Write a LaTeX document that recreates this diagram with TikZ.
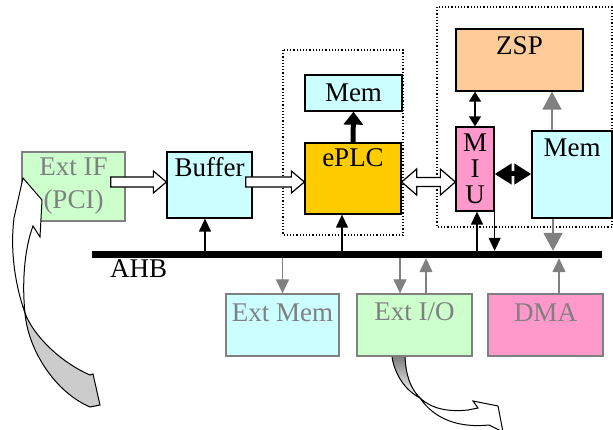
\documentclass[tikz,border=0pt]{standalone}
\usepackage{fontspec}
\setmainfont{Liberation Serif}
\usetikzlibrary{arrows.meta,calc}

\definecolor{lcyan}{HTML}{CCFFFF}
\definecolor{lgreen}{HTML}{CCFFCC}
\definecolor{gold}{HTML}{FFCC00}
\definecolor{peach}{HTML}{FFCC99}
\definecolor{pink}{HTML}{FF99CC}
\definecolor{dgray}{HTML}{808080}
\definecolor{shade}{HTML}{CCCCCC}

% hollow block arrow, horizontal, tip at #2
\newcommand{\hollowto}[2]{%
  \draw[hollow] let \p1=(#1), \p2=(#2) in
    (\x1,\y1+5pt) -- (\x2-13pt,\y1+5pt) -- (\x2-13pt,\y1+11pt) -- (\x2,\y1)
    -- (\x2-13pt,\y1-11pt) -- (\x2-13pt,\y1-5pt) -- (\x1,\y1-5pt) -- cycle;}
% same with a tip at both ends
\newcommand{\hollowboth}[2]{%
  \draw[hollow] let \p1=(#1), \p2=(#2) in
    (\x1,\y1) -- (\x1+15pt,\y1+13pt) -- (\x1+15pt,\y1+4.5pt) -- (\x2-15pt,\y1+4.5pt)
    -- (\x2-15pt,\y1+13pt) -- (\x2,\y1) -- (\x2-15pt,\y1-13pt) -- (\x2-15pt,\y1-4.5pt)
    -- (\x1+15pt,\y1-4.5pt) -- (\x1+15pt,\y1-13pt) -- cycle;}

\begin{document}
\begin{tikzpicture}[x=1pt,y=-1pt,font=\fontsize{27}{30}\selectfont,
    box/.style={draw,line width=1.3pt,inner sep=0pt,align=center},
    ext/.style={box,draw=dgray,text=dgray},
    hollow/.style={draw,fill=white,line width=1.2pt},
    arr/.style={line width=1.3pt,-{Triangle[length=13pt,width=12pt]}},
    garr/.style={line width=1.3pt,dgray,-{Triangle[length=14pt,width=13pt]}},
    biggarr/.style={line width=1.8pt,dgray,-{Triangle[length=18pt,width=19pt]}},
    fatarr/.style={line width=5pt,-{Triangle[length=13pt,width=19pt]}}]
    \useasboundingbox (0,0) rectangle (613,430);

    % subsystem frames
    \draw[dotted,line width=1.2pt] (283,50) rectangle (403,235);
    \draw[dotted,line width=1.2pt] (437,7) rectangle (612,227);

    % blocks
    \node[ext,fill=lgreen,minimum width=103pt,minimum height=69pt,
          font=\fontsize{27}{33}\selectfont] (extif) at (73.5,186.5) {Ext IF\\(PCI)};
    \node[box,fill=lcyan,minimum width=85pt,text height=25pt,text depth=41pt] (buffer) at (209.5,185) {Buffer};
    \node[box,fill=lcyan,minimum width=97pt,minimum height=36pt] (mema) at (353.5,93) {Mem};
    \node[box,fill=gold,minimum width=96pt,text height=24pt,text depth=47pt] (eplc) at (353,178.5) {ePLC};
    \node[box,fill=peach,minimum width=127pt,text height=26pt,text depth=36pt] (zsp) at (519.5,60) {ZSP};
    \node[box,fill=pink,minimum width=38pt,minimum height=84pt,
          font=\fontsize{27}{26}\selectfont] (miu) at (475,169) {M\\I\\U};
    \node[box,fill=lcyan,minimum width=80pt,text height=26pt,text depth=61pt] (memb) at (572,174.5) {Mem};

    \node[ext,fill=lcyan,minimum width=113pt,text height=28pt,text depth=34pt] (extmem) at (282.5,325) {Ext Mem};
    \node[ext,fill=lgreen,minimum width=115pt,text height=26pt,text depth=36pt] (extio) at (414.5,325) {Ext I/O};
    \node[ext,fill=pink,minimum width=115pt,text height=28pt,text depth=34pt] (dma) at (545.5,325) {DMA};

    % bus
    \node[fill=black,inner sep=0pt,minimum width=510pt,minimum height=7pt] (ahb) at (347,254.5) {};
    \node[anchor=base west,inner sep=0pt] (ahblabel) at (110,278) {AHB};

    % data paths
    \hollowto{[xshift=-15pt,yshift=4.5pt]extif.east}{buffer.west}
    \hollowto{[xshift=-7pt,yshift=3pt]buffer.east}{eplc.west}
    \hollowboth{[yshift=-3.5pt]eplc.east}{miu.west}

    \draw[fatarr] (eplc.north) -- (mema.south);
    \draw[line width=5pt,{Triangle[length=17pt,width=20pt]}-{Triangle[length=17pt,width=20pt]}]
        ([yshift=-5pt]miu.east) -- ([yshift=-5pt]miu.east -| memb.west);
    \draw[line width=1.6pt,{Triangle[length=10pt,width=12pt]}-{Triangle[length=10pt,width=12pt]}]
        (miu.north |- zsp.south) -- (miu.north);
    \draw[biggarr] ([xshift=-20pt]memb.north) -- ([xshift=-20pt]memb.north |- zsp.south);

    % bus taps
    \draw[arr] ([xshift=-4.5pt]buffer.south |- ahb.north) -- ([xshift=-4.5pt]buffer.south);
    \draw[arr] ([xshift=-11pt]eplc.south |- ahb.north) -- ([xshift=-11pt]eplc.south);
    \draw[arr] ([xshift=2pt]miu.south |- ahb.north) -- ([xshift=2pt]miu.south);
    \draw[arr] (miu.south east) -- (miu.south east |- ahb.north);
    \draw[biggarr] ([xshift=-19pt]memb.south) -- ([xshift=-19pt]memb.south |- ahb.north);

    \draw[garr] (extmem.north |- ahb.south) -- (extmem.north);
    \draw[garr] ([xshift=-14.5pt]extio.north |- ahb.south) -- ([xshift=-14.5pt]extio.north);
    \draw[garr] ([xshift=11.5pt]extio.north) -- ([xshift=11.5pt]extio.north |- ahb.south);
    \draw[garr] ([xshift=13.5pt]dma.north) -- ([xshift=13.5pt]dma.north |- ahb.south);

    % curved arrow into Ext IF
    \filldraw[line width=1pt,fill=shade] (25,313) .. controls (28,350) and (55,392) .. (90,407)
        -- (100,405) -- (93,374) -- (90,375) .. controls (60,362) and (33,335) .. (25,313) -- cycle;
    \filldraw[line width=1pt,fill=white] (25,313) .. controls (15,285) and (10,250) .. (14,218)
        -- (23,178) -- (42,200) -- (40,237) -- (33,226) .. controls (24,250) and (22,285) .. (25,313) -- cycle;

    % curved arrow out of Ext I/O
    \fill[shade] (392,357) .. controls (395,375) and (405,390) .. (420,398)
        .. controls (410,388) and (406,375) .. (405,357) -- cycle;
    \draw[line width=1pt] (392,357) .. controls (395,375) and (405,390) .. (420,398)
        .. controls (410,388) and (406,375) .. (405,357);
    \filldraw[line width=1pt,fill=white] (420,398) .. controls (432,409) and (448,412) .. (468,410)
        -- (478,408) -- (473,401) -- (498,406) -- (503,432) -- (489,425)
        .. controls (460,428) and (435,420) .. (420,398) -- cycle;
\end{tikzpicture}
\end{document}
